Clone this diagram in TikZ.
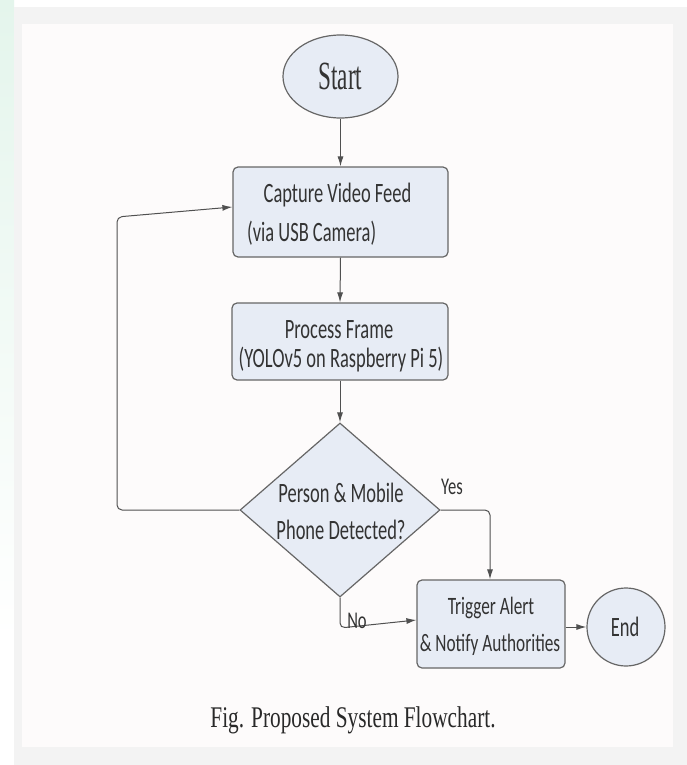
\documentclass[tikz,border=0pt]{standalone}
\usepackage{fontspec}
\usepackage{graphicx}
\usetikzlibrary{shapes.geometric,arrows.meta}
\newfontfamily\boxfont[FakeStretch=0.66]{Carlito}
\newfontfamily\boxfontb[FakeStretch=0.69]{Carlito}
\newfontfamily\startfont[FakeStretch=0.58]{Liberation Serif}
\newfontfamily\capfont[FakeStretch=0.71]{Liberation Serif}
\definecolor{nodefill}{HTML}{E7ECF5}
\definecolor{nodeline}{HTML}{666666}
\definecolor{txt}{HTML}{333333}
\definecolor{conn}{HTML}{505050}
\definecolor{pagegray}{HTML}{F3F3F3}
\definecolor{panel}{HTML}{FDFBFB}
\definecolor{wmark}{HTML}{E4F5EC}
\tikzset{
  shapebase/.style={draw=nodeline, fill=nodefill, line width=1.2pt, inner sep=0pt},
  procbox/.style={shapebase, rectangle, rounded corners=5pt},
  termnode/.style={shapebase, ellipse},
  decnode/.style={shapebase, diamond},
  btext/.style={font=\boxfont\fontsize{28}{34}\selectfont, text=txt, inner sep=0pt},
  stext/.style={font=\boxfontb\fontsize{25}{30}\selectfont, text=txt, inner sep=0pt},
  lbl/.style={font=\boxfontb\fontsize{24}{28}\selectfont, text=txt, inner sep=0pt},
  conn/.style={draw=conn, line width=1pt, rounded corners=5pt, -{Latex[length=10pt,width=6pt]}}
}
\begin{document}
\begin{tikzpicture}[x=1pt,y=-1pt]
\useasboundingbox (0,0) rectangle (687,765);
% background
\fill[white] (0,0) rectangle (687,765);
\shade[top color=wmark, bottom color=white] (0,0) rectangle (14,640);
\fill[pagegray] (14,7) rectangle (687,765);
\fill[panel] (22,24) rectangle (673,747);

% nodes
\node[termnode, minimum width=115pt, minimum height=83pt] (start) at (340.5,76.5) {};
\node[font=\startfont\fontsize{40}{44}\selectfont, text=txt, inner sep=0pt] (starttext) at (340.5,76.5) {Start};

\node[procbox, minimum width=215pt, minimum height=90pt] (cap) at (340.5,212) {};
\node[btext] (capa) at (337.5,195) {Capture Video Feed};
\node[btext, anchor=west] (capb) at (247,233) {(via USB Camera)};

\node[procbox, minimum width=216pt, minimum height=77pt] (proc) at (340,341.5) {};
\node[btext] (proca) at (339,330) {Process Frame};
\node[btext] (procb) at (341,360) {(YOLOv5 on Raspberry Pi 5)};

\node[decnode, minimum width=200pt, minimum height=174pt] (dec) at (340,510) {};
\node[btext] (deca) at (341,493) {Person \& Mobile};
\node[btext] (decb) at (341,530) {Phone Detected?};

\node[procbox, minimum width=148pt, minimum height=88pt] (trig) at (491,624) {};
\node[stext] (triga) at (491,608) {Trigger Alert};
\node[stext] (trigb) at (490,645) {\& Notify Authorities};

\node[termnode, minimum width=78pt, minimum height=78pt] (end) at (626,627) {};
\node[btext] (endtext) at (625,627) {End};

% connectors
\draw[conn] (start.south) -- (cap.north);
\draw[conn] (cap.south) -- (proc.north);
\draw[conn] (proc.south) -- (dec.north);
\coordinate (loopbot) at (117,510);
\coordinate (looptop) at (117,217);
\draw[conn] (dec.west) -- (loopbot) -- (looptop) -- ([yshift=5pt]cap.west);
\coordinate (yescorner) at (490,510);
\draw[conn] (dec.east) -- (yescorner) -- (yescorner |- trig.north);
\coordinate (nocorner) at (340,628);
\draw[conn] (dec.south) -- (nocorner) -- ([yshift=4pt]trig.west);
\draw[conn, rounded corners=0pt] (trig.east |- end.west) -- (end.west);

% labels
\node[lbl] (yes) at (452,487) {Yes};
\node[lbl] (no) at (357,621) {No};

% caption
\node[font=\capfont\fontsize{30}{34}\selectfont, text=txt!80!black, inner sep=0pt] (caption) at (353,720) {Fig. Proposed System Flowchart.};
\end{tikzpicture}
\end{document}
